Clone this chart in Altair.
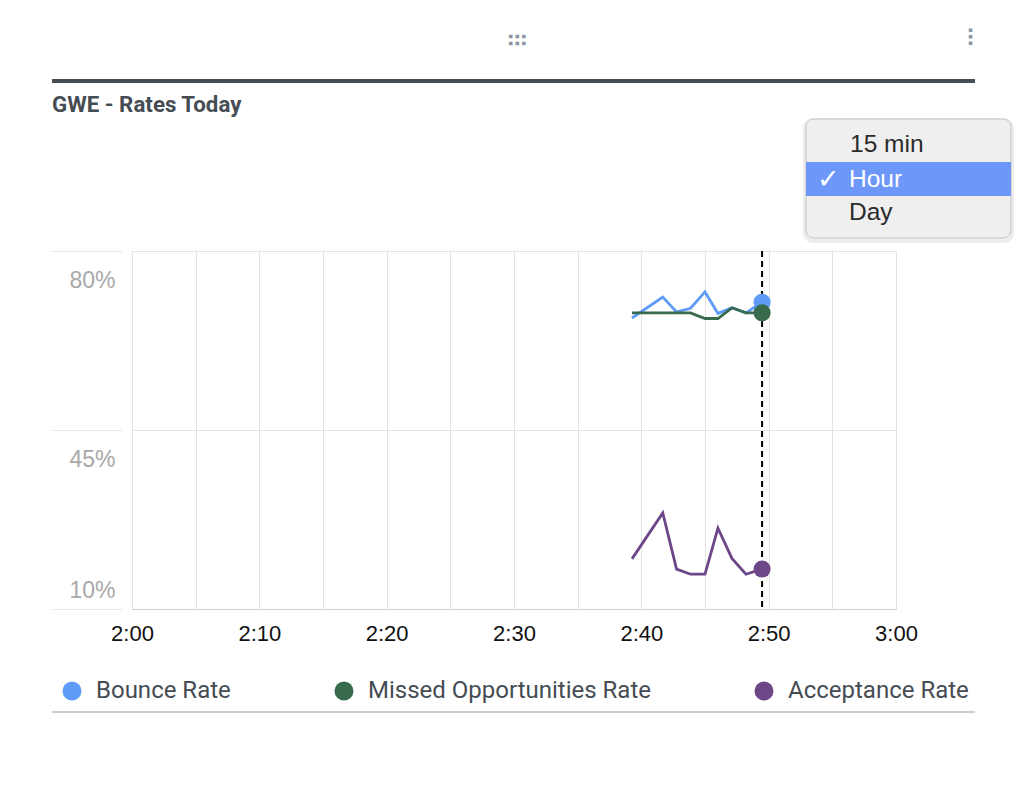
import altair as alt
import pandas as pd

DAY = "2024-01-01"

# ---- data ----
series_names = ["Bounce Rate", "Missed Opportunities Rate", "Acceptance Rate"]
series_colors = ["#5f9cf9", "#386a4e", "#6d4688"]

times = ["14:39:16", "14:41:41", "14:42:46", "14:43:52", "14:45:00",
         "14:46:01", "14:47:07", "14:48:13", "14:49:29"]
bounce = [66.9, 71.0, 68.1, 68.8, 72.0, 67.8, 68.9, 67.9, 70.0]
missed = [67.9, 67.9, 67.9, 67.9, 66.8, 66.8, 68.9, 67.9, 67.9]
acceptance = [19.8, 28.8, 17.8, 16.8, 16.8, 25.8, 19.9, 16.8, 17.8]

now_time = "14:49:29"
y_ticks = [10, 45, 80]
x_grid_minutes = [0, 5, 10, 15, 20, 25, 30, 35, 40, 45, 50, 55, 60]

title_text = "GWE - Rates Today"
menu_items = ["15 min", "Hour", "Day"]

# ---- tables ----
rows = []
for name, vals in zip(series_names, [bounce, missed, acceptance]):
    for t, v in zip(times, vals):
        rows.append({"series": name, "time": f"{DAY}T{t}", "value": v})
df = pd.DataFrame(rows)
last_df = df[df["time"] == f"{DAY}T{times[-1]}"]
now_df = pd.DataFrame({"time": [f"{DAY}T{now_time}"]})


def dt(m):
    return alt.DateTime(year=2024, month=1, date=1, hours=14 + m // 60, minutes=m % 60)


x_scale = alt.Scale(domain=[dt(0), dt(60)])
y_scale = alt.Scale(domain=[10, 80], nice=False, zero=False)
color_scale = alt.Scale(domain=series_names, range=series_colors)

x_axis = alt.Axis(
    values=[dt(m) for m in x_grid_minutes],
    labelExpr="minutes(datum.value) % 10 == 0 ? timeFormat(datum.value, '%-I:%M') : ''",
    grid=True, gridColor="#e3e3e3", gridWidth=1,
    domainColor="#d0d0d0", ticks=False,
    labelFont="Liberation Sans", labelFontSize=22, labelColor="#111111",
    labelPadding=14, labelFlush=False, labelOverlap=False, title=None,
)
y_axis = alt.Axis(
    values=y_ticks,
    labelExpr="datum.value + '%'",
    grid=True, gridColor="#e3e3e3", gridWidth=1,
    domain=False, ticks=True, tickSize=70, tickColor="#e6e6e6", offset=10,
    labelPadding=-63, labelFont="Liberation Sans", labelFontSize=23,
    labelColor="#a8a8a8", labelFlush=False, labelOverlap=False,
    labelOffset={"condition": {"test": "datum.value <= 10", "value": -19}, "value": 29},
    title=None,
)

legend = alt.Legend(
    orient="none", legendX=-72, legendY=428, direction="horizontal",
    title=None, labelFont="Roboto", labelFontSize=24, labelColor="#454c53",
    labelLimit=0, symbolType="circle", symbolSize=360, symbolOpacity=1,
    symbolStrokeWidth=0, columnPadding=101, labelOffset=12,
)

base = alt.Chart(df)

lines = base.mark_line(strokeWidth=2.8).encode(
    x=alt.X("time:T", scale=x_scale, axis=x_axis),
    y=alt.Y("value:Q", scale=y_scale, axis=y_axis),
    color=alt.Color("series:N", scale=color_scale, legend=legend),
    order=alt.Order("time:T"),
)

now_rule = alt.Chart(now_df).mark_rule(color="#000000", strokeWidth=2, strokeDash=[6, 4]).encode(
    x=alt.X("time:T", scale=x_scale),
)

dots = alt.Chart(last_df).mark_circle(size=290, opacity=1).encode(
    x=alt.X("time:T", scale=x_scale),
    y=alt.Y("value:Q", scale=y_scale),
    color=alt.Color("series:N", scale=color_scale, legend=legend),
)

# ---- card decorations ----
top_bar = alt.Chart(now_df).mark_rule(color="#474e55", strokeWidth=4).encode(
    x=alt.value(-80), x2=alt.value(843), y=alt.value(-170))
title = alt.Chart(now_df).mark_text(
    text=title_text, align="left", baseline="middle", font="Roboto",
    fontWeight="bold", fontSize=22.3, color="#454c53").encode(
    x=alt.value(-80), y=alt.value(-146))
bottom_bar = alt.Chart(now_df).mark_rule(color="#c8d0d8", strokeWidth=2).encode(
    x=alt.value(-80), x2=alt.value(843), y=alt.value(461))
drag_icon = alt.Chart(now_df).mark_text(
    text="⠿", angle=90, fontSize=24, color="#8a96a3", font="DejaVu Sans").encode(
    x=alt.value(382), y=alt.value(-211))
more_icon = alt.Chart(now_df).mark_text(
    text="⠇", fontSize=24, color="#8a96a3", font="DejaVu Sans").encode(
    x=alt.value(842), y=alt.value(-211))

menu_shadow = alt.Chart(now_df).mark_rect(
    fill="#000000", opacity=0.07, cornerRadius=10).encode(
    x=alt.value(671), x2=alt.value(882), y=alt.value(-133), y2=alt.value(-8))
menu_box = alt.Chart(now_df).mark_rect(
    fill="#efefef", stroke="#c4c4c4", strokeWidth=1, cornerRadius=8).encode(
    x=alt.value(674), x2=alt.value(879), y=alt.value(-132), y2=alt.value(-13))
menu_hl = alt.Chart(now_df).mark_rect(fill="#6d98fa").encode(
    x=alt.value(674), x2=alt.value(879), y=alt.value(-89), y2=alt.value(-55))
menu_t1 = alt.Chart(now_df).mark_text(
    text=menu_items[0], align="left", baseline="middle", font="Liberation Sans",
    fontSize=24.5, color="#2b2b2b").encode(x=alt.value(718), y=alt.value(-106))
menu_t2 = alt.Chart(now_df).mark_text(
    text=menu_items[1], align="left", baseline="middle", font="Liberation Sans",
    fontSize=24.5, color="#ffffff").encode(x=alt.value(717), y=alt.value(-71))
menu_t3 = alt.Chart(now_df).mark_text(
    text=menu_items[2], align="left", baseline="middle", font="Liberation Sans",
    fontSize=24.5, color="#2b2b2b").encode(x=alt.value(717), y=alt.value(-38))
menu_check = alt.Chart(now_df).mark_text(
    text="✓", align="left", baseline="middle", font="DejaVu Sans",
    fontSize=27, fontWeight="bold", color="#ffffff").encode(x=alt.value(685), y=alt.value(-71))

chart = alt.layer(
    lines, now_rule, dots,
    top_bar, title, bottom_bar, drag_icon, more_icon,
    menu_shadow, menu_box, menu_hl, menu_t1, menu_t2, menu_t3, menu_check,
).properties(
    width=764, height=358,
    autosize=alt.AutoSizeParams(type="none"),
    padding={"left": 124, "top": 243, "right": 119, "bottom": 182},
    background="#ffffff",
).configure_view(strokeWidth=0)

chart.save("out.html", embed_options={"renderer": "svg", "actions": False})
